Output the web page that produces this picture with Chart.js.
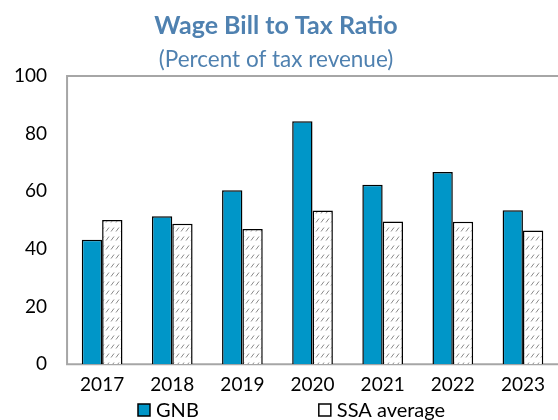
<!DOCTYPE html>
<html>
<head>
<meta charset="utf-8">
<script src="https://cdn.jsdelivr.net/npm/chart.js@4.4.0/dist/chart.umd.min.js"></script>
<style>
  html, body { margin: 0; padding: 0; background: #fff; }
  #wrap { width: 558px; height: 420px; }
</style>
</head>
<body>
<div id="wrap"><canvas id="wageChart" width="558" height="420"></canvas></div>
<script>
// Years on the x axis
var years = ["2017", "2018", "2019", "2020", "2021", "2022", "2023"];

// Wage bill, percent of tax revenue
var gnb = [43.2, 51.3, 60.4, 84.3, 62.3, 66.7, 53.4];
var ssaAverage = [50.0, 48.7, 46.9, 53.3, 49.5, 49.4, 46.4];

var FONT = "Lato, 'Liberation Sans', sans-serif";
var TITLE_COLOR = "#4f81b0";
var GNB_BLUE = "#0096c8";

// Hatch fill for the SSA bars: small grey slashes on white
function makeHatch() {
    var c = document.createElement("canvas");
    c.width = 5;
    c.height = 9;
    var g = c.getContext("2d");
    g.fillStyle = "#ffffff";
    g.fillRect(0, 0, 5, 9);
    g.strokeStyle = "#8a8a8a";
    g.lineWidth = 1;
    g.beginPath();
    g.moveTo(1, 6.5);
    g.lineTo(4, 2.5);
    g.stroke();
    return g.createPattern(c, "repeat");
}
var hatch = makeHatch();

// Grey frame around the plot area (right side runs off the canvas)
var plotFrame = {
    id: "plotFrame",
    beforeDatasetsDraw: function (chart) {
        var a = chart.chartArea;
        var ctx = chart.ctx;
        ctx.save();
        ctx.strokeStyle = "#a6a6a6";
        ctx.lineWidth = 2;
        ctx.beginPath();
        ctx.moveTo(chart.width + 2, a.top);
        ctx.lineTo(a.left, a.top);
        ctx.lineTo(a.left, a.bottom);
        ctx.lineTo(chart.width + 2, a.bottom);
        ctx.stroke();
        ctx.restore();
    }
};

// Wide-spaced legend along the bottom edge
var spacedLegend = {
    id: "spacedLegend",
    afterDraw: function (chart) {
        var ctx = chart.ctx;
        var box = 12, gap = 6, spacing = 120;
        ctx.save();
        ctx.font = "20px " + FONT;
        ctx.textBaseline = "middle";
        var items = chart.data.datasets.map(function (ds, i) {
            return { text: ds.label, fill: i === 0 ? GNB_BLUE : "#ffffff",
                     w: box + gap + ctx.measureText(ds.label).width };
        });
        var total = items.reduce(function (s, it) { return s + it.w; }, 0) + spacing * (items.length - 1);
        var x = Math.round((chart.width - total) / 2 + 13);
        var y = chart.height - 10;
        items.forEach(function (it) {
            ctx.fillStyle = it.fill;
            ctx.fillRect(x, y - box / 2, box, box);
            ctx.strokeStyle = "#000";
            ctx.lineWidth = 1.5;
            ctx.strokeRect(x, y - box / 2, box, box);
            ctx.fillStyle = "#000";
            ctx.fillText(it.text, x + box + gap, y + 1);
            x += it.w + spacing;
        });
        ctx.restore();
    }
};

var ctx = document.getElementById("wageChart").getContext("2d");

var chart = new Chart(ctx, {
    type: "bar",
    data: {
        labels: years,
        datasets: [{
            label: "GNB",
            data: gnb,
            backgroundColor: GNB_BLUE,
            borderColor: "#000000",
            borderWidth: 1.5,
            borderSkipped: "bottom"
        }, {
            label: "SSA average",
            data: ssaAverage,
            backgroundColor: hatch,
            borderColor: "#000000",
            borderWidth: 1.5,
            borderSkipped: "bottom"
        }]
    },
    options: {
        responsive: false,
        animation: false,
        devicePixelRatio: 1,
        layout: {
            padding: { left: -6, right: 0, top: 0, bottom: 15 }
        },
        datasets: {
            bar: {
                categoryPercentage: 0.58,
                barPercentage: 1.0
            }
        },
        scales: {
            x: {
                grid: { display: false, drawTicks: false },
                border: { display: false },
                ticks: {
                    color: "#000",
                    padding: 9,
                    font: { family: FONT, size: 19 }
                }
            },
            y: {
                min: 0,
                max: 100,
                grid: { display: false, drawTicks: false },
                border: { display: false },
                ticks: {
                    stepSize: 20,
                    color: "#000",
                    padding: 20,
                    font: { family: FONT, size: 19 }
                }
            }
        },
        plugins: {
            title: {
                display: true,
                text: "Wage Bill to Tax Ratio",
                color: TITLE_COLOR,
                font: { family: FONT, size: 25, weight: "bold", lineHeight: 1.2 },
                padding: { top: 11, bottom: 0 }
            },
            subtitle: {
                display: true,
                text: "(Percent of tax revenue)",
                color: TITLE_COLOR,
                font: { family: FONT, size: 22.5, lineHeight: 1.2 },
                padding: { top: 5, bottom: 3 }
            },
            legend: { display: false },
            tooltip: { enabled: false }
        }
    },
    plugins: [plotFrame, spacedLegend]
});
</script>
</body>
</html>
